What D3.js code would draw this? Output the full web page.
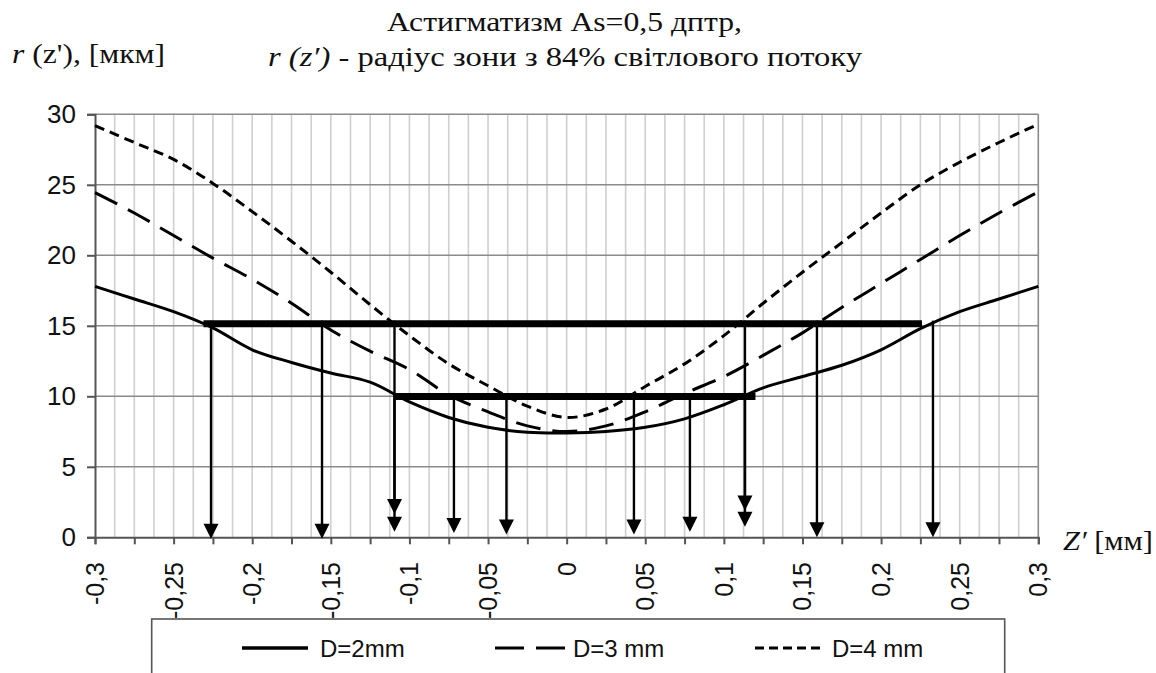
<!DOCTYPE html>
<html><head><meta charset="utf-8">
<script src="https://cdn.jsdelivr.net/npm/d3@7"></script>
<style>html,body{margin:0;padding:0;background:#fff;}svg{display:block;}</style>
</head><body>
<svg id="chart" width="1156" height="673"></svg>
<script>
// ---- data ----
const zValues = [-0.3,-0.275,-0.25,-0.225,-0.2,-0.175,-0.15,-0.125,-0.1,-0.075,-0.05,-0.025,0,0.025,0.05,0.075,0.1,0.125,0.15,0.175,0.2,0.225,0.25,0.275,0.3];
const seriesD2 = [17.8,16.9,16.0,14.85,13.3,12.4,11.65,11.0,9.6,8.5,7.8,7.45,7.4,7.5,7.8,8.4,9.4,10.6,11.4,12.2,13.3,14.8,16.0,16.9,17.8];
const seriesD3 = [24.45,23.0,21.4,19.8,18.3,16.6,14.7,13.2,11.9,10.1,8.9,7.9,7.5,7.9,8.9,10.2,11.4,12.9,14.5,16.3,18.0,19.7,21.4,23.0,24.5];
const seriesD4 = [29.2,28.0,26.8,25.1,23.1,21.0,18.8,16.5,14.3,12.3,10.75,9.3,8.5,9.1,10.7,12.3,14.3,16.6,18.8,20.9,23.0,25.0,26.6,28.0,29.3];
const seriesNames = ["D=2mm","D=3 mm","D=4 mm"];
const yTicks = [0,5,10,15,20,25,30];
const xTicks = [-0.3,-0.25,-0.2,-0.15,-0.1,-0.05,0,0.05,0.1,0.15,0.2,0.25,0.3];
const xTickLabels = ["-0,3","-0,25","-0,2","-0,15","-0,1","-0,05","0","0,05","0,1","0,15","0,2","0,25","0,3"];
const levelValues = [15.15, 9.98];
const levelFrom = [-0.231, -0.1098];
const levelTo = [0.226, 0.1201];
const arrowZ = [-0.2262,-0.1556,-0.1095,0.1134,0.1592,0.233, -0.1095,-0.0717,-0.0383,0.0428,0.0784,0.1134];
const arrowStart = [15.15,15.15,15.15,15.15,15.15,15.15, 9.98,9.98,9.98,9.98,9.98,9.98];
const arrowTip = [-0.1,-0.1,0.4,0.75,0,0, 1.65,0.3,0.2,0.2,0.4,1.9];

// ---- chart ----
const svg = d3.select("#chart");
const x = d3.scaleLinear().domain([-0.3,0.3]).range([95,1038.3]);
const y = d3.scaleLinear().domain([0,30]).range([537.3,114.3]);
const sans = "Liberation Sans, Arial, sans-serif";
const serif = "Liberation Serif, Times New Roman, serif";

// vertical gridlines
const vGrid = d3.range(-0.3+0.0125, 0.3+1e-9, 0.0125);
svg.append("g").selectAll("line").data(vGrid).join("line")
  .attr("x1",d=>x(d)).attr("x2",d=>x(d)).attr("y1",y(0)).attr("y2",y(30))
  .attr("stroke", (d)=>Math.abs(d-0.3)<1e-6 ? "#8a8a8a" : "#cfcfcf").attr("stroke-width",1.6);
// horizontal gridlines
svg.append("g").selectAll("line").data(yTicks.filter(d=>d>0)).join("line")
  .attr("x1",x(-0.3)).attr("x2",x(0.3)).attr("y1",d=>y(d)).attr("y2",d=>y(d))
  .attr("stroke","#8a8a8a").attr("stroke-width",1.6);

// y axis
const yAxis = d3.axisLeft(y).tickValues(yTicks).tickSize(8).tickPadding(11).tickFormat(d=>String(d));
const gy = svg.append("g").attr("transform",`translate(${x(-0.3)},0)`).call(yAxis);
gy.select(".domain").attr("stroke","#555").attr("stroke-width",2);
gy.selectAll(".tick line").attr("stroke","#555").attr("stroke-width",2);
gy.selectAll(".tick text").attr("font-family",sans).attr("font-size",26).attr("fill","#111");

// x axis
const xAxis = d3.axisBottom(x).tickValues(d3.range(-0.3,0.3+1e-9,0.025)).tickSize(7).tickFormat("");
const gx = svg.append("g").attr("transform",`translate(0,${y(0)})`).call(xAxis);
gx.select(".domain").attr("stroke","#555").attr("stroke-width",2);
gx.selectAll(".tick line").attr("stroke","#555").attr("stroke-width",2);
svg.append("g").selectAll("text").data(xTicks).join("text")
  .attr("transform",d=>`translate(${x(d)},562) rotate(-90)`)
  .attr("dy","0.36em").attr("text-anchor","end")
  .attr("font-family",sans).attr("font-size",25).attr("fill","#111")
  .text((d,i)=>xTickLabels[i]);

// curves
const line = d3.line().x((d,i)=>x(zValues[i])).y(d=>y(d)).curve(d3.curveCatmullRom.alpha(0.5));
const dashes = [null, "25,12", "10,6"];
[seriesD2, seriesD3, seriesD4].forEach((s,k)=>{
  svg.append("path").datum(s).attr("d",line).attr("fill","none").attr("stroke","#000")
    .attr("stroke-width",3).attr("stroke-dasharray",dashes[k]);
});

// level bars
svg.append("g").selectAll("line").data(levelValues).join("line")
  .attr("x1",(d,i)=>x(levelFrom[i])).attr("x2",(d,i)=>x(levelTo[i]))
  .attr("y1",d=>y(d)).attr("y2",d=>y(d)).attr("stroke","#000").attr("stroke-width",7);

// arrows
const ga = svg.append("g");
arrowZ.forEach((z,i)=>{
  const ax = x(z), yTip = y(arrowTip[i]), yStart = y(arrowStart[i]) - 3;
  ga.append("line").attr("x1",ax).attr("x2",ax).attr("y1",yStart).attr("y2",yTip-10)
    .attr("stroke","#000").attr("stroke-width",2.4);
  ga.append("path").attr("d",`M${ax-7.5},${yTip-15}L${ax+7.5},${yTip-15}L${ax},${yTip}Z`).attr("fill","#000");
});

// titles
svg.append("text").attr("x",387).attr("y",31).attr("font-family",serif).attr("font-size",28)
  .attr("textLength",355).attr("lengthAdjust","spacingAndGlyphs").attr("fill","#111")
  .text("Астигматизм As=0,5 дптр,");
const t2 = svg.append("text").attr("x",268).attr("y",66).attr("font-family",serif).attr("font-size",28)
  .attr("textLength",594).attr("lengthAdjust","spacingAndGlyphs").attr("fill","#111");
t2.append("tspan").attr("font-style","italic").text("r (z′)");
t2.append("tspan").text(" -  радіус зони з 84% світлового потоку");
const t3 = svg.append("text").attr("x",12).attr("y",63).attr("font-family",serif).attr("font-size",28)
  .attr("textLength",153).attr("lengthAdjust","spacingAndGlyphs").attr("fill","#111");
t3.append("tspan").attr("font-style","italic").text("r");
t3.append("tspan").text(" (z'), [мкм]");
const t4 = svg.append("text").attr("x",1063).attr("y",550).attr("font-family",serif).attr("font-size",28)
  .attr("textLength",90).attr("lengthAdjust","spacingAndGlyphs").attr("fill","#111");
t4.append("tspan").attr("font-style","italic").text("Z′");
t4.append("tspan").text(" [мм]");

// legend
const lg = svg.append("g");
lg.append("rect").attr("x",151.7).attr("y",619).attr("width",853).attr("height",120)
  .attr("fill","#fff").attr("stroke","#555").attr("stroke-width",1.6);
const legX1 = [242,495,755], legX2 = [308,567,825], legTx = [320,573,832];
seriesNames.forEach((n,k)=>{
  lg.append("line").attr("x1",legX1[k]).attr("x2",legX2[k]).attr("y1",648).attr("y2",648)
    .attr("stroke","#000").attr("stroke-width",k===0?3.5:3).attr("stroke-dasharray",k===1?"29,12":(k===2?"9,5":null));
  lg.append("text").attr("x",legTx[k]).attr("y",656.5).attr("font-family",sans)
    .attr("font-size",24).attr("fill","#111").text(n);
});
</script>
</body></html>
